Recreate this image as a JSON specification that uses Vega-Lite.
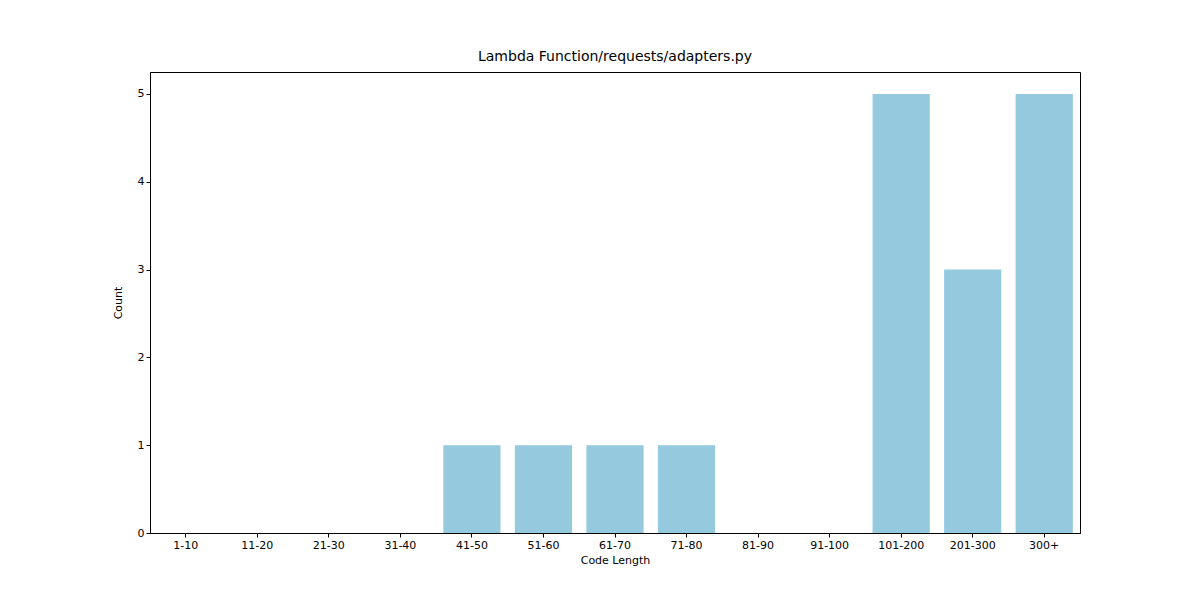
{
  "$schema": "https://vega.github.io/schema/vega-lite/v6.json",
  "autosize": "none",
  "width": 930,
  "height": 461,
  "padding": {"left": 150, "top": 72, "right": 120, "bottom": 67},
  "background": "white",
  "title": {"text": "Lambda Function/requests/adapters.py", "fontSize": 14, "fontWeight": "normal", "font": "DejaVu Sans", "offset": 8},
  "data": {
    "values": [
      {"len": "1-10", "count": 0},
      {"len": "11-20", "count": 0},
      {"len": "21-30", "count": 0},
      {"len": "31-40", "count": 0},
      {"len": "41-50", "count": 1},
      {"len": "51-60", "count": 1},
      {"len": "61-70", "count": 1},
      {"len": "71-80", "count": 1},
      {"len": "81-90", "count": 0},
      {"len": "91-100", "count": 0},
      {"len": "101-200", "count": 5},
      {"len": "201-300", "count": 3},
      {"len": "300+", "count": 5}
    ]
  },
  "mark": {"type": "bar", "color": "#95c9de"},
  "encoding": {
    "x": {
      "field": "len", "type": "nominal", "sort": null,
      "scale": {"paddingInner": 0.2, "paddingOuter": 0.1},
      "axis": {"title": "Code Length", "labelAngle": 0, "titlePadding": 4}
    },
    "y": {
      "field": "count", "type": "quantitative",
      "scale": {"domain": [0, 5.25], "nice": false},
      "axis": {"title": "Count", "values": [0, 1, 2, 3, 4, 5], "grid": false, "titlePadding": 14}
    }
  },
  "config": {
    "view": {"stroke": "black", "strokeWidth": 1},
    "axis": {
      "labelFont": "DejaVu Sans", "titleFont": "DejaVu Sans",
      "labelFontSize": 11, "titleFontSize": 11, "titleFontWeight": "normal",
      "labelColor": "black", "titleColor": "black",
      "tickColor": "black", "domainColor": "black", "tickSize": 4
    }
  }
}
